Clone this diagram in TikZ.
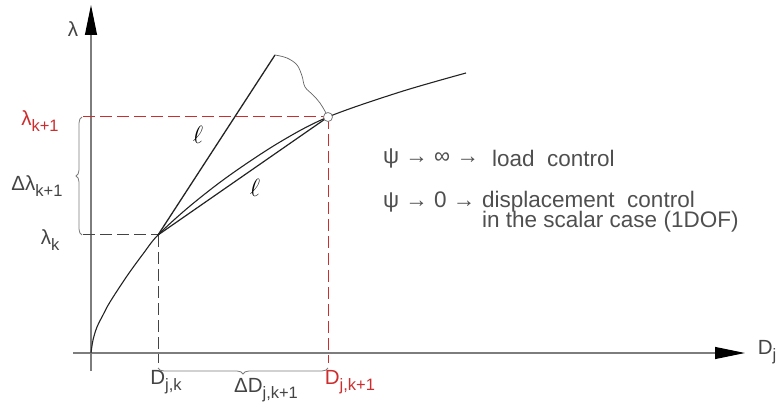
\documentclass[tikz,border=0pt]{standalone}
\usepackage{fontspec}
\setmainfont{Liberation Sans}
\usetikzlibrary{arrows.meta,decorations.pathreplacing}
\definecolor{redc}{RGB}{205,45,45}
\definecolor{axisc}{RGB}{125,125,125}
\definecolor{inkc}{RGB}{35,35,35}
\newcommand\sbx[1]{\raisebox{-0.32em}{\fontsize{16.5}{17}\selectfont #1}}
\begin{document}
\begin{tikzpicture}[x=1pt,y=-1pt,
  lbl/.style={font=\fontsize{20.5}{22}\selectfont, inner sep=0pt, text=inkc!85},
  txt/.style={font=\fontsize{22.5}{24}\selectfont, inner sep=0pt, anchor=west, text=inkc!80},
  ell/.style={font=\fontsize{27}{28}\selectfont, inner sep=0pt},
  axisline/.style={axisc, line width=1.1pt},
  tip/.style={-{Triangle[length=30pt,width=12pt,color=black]}},
  dashblk/.style={inkc!85, line width=1pt, dash pattern=on 12pt off 5pt},
  dashred/.style={redc, line width=1pt, dash pattern=on 12pt off 5pt},
  ink/.style={inkc, line width=1.2pt},
  brc/.style={axisc, line width=0.8pt, decorate, decoration={brace, amplitude=6pt}}]
\useasboundingbox (0,0) rectangle (780,409);

% key points
\coordinate (O) at (91,353);
\coordinate (Pk) at (158,235);
\coordinate (Pk1) at (328,117);
\coordinate (T) at (275,55);
\coordinate (E) at (466,73);
\coordinate (ybot) at (91,371);
\coordinate (ytip) at (91,5);
\coordinate (xleft) at (73,353);
\coordinate (xtip) at (745,353);
\coordinate (lk1L) at (83,117);
\coordinate (lkL) at (83,235);
\coordinate (vk) at (158,363);
\coordinate (vk1) at (328,363);
\coordinate (bL) at (158,368);
\coordinate (bR) at (328,368);
\coordinate (lbB) at (82,235);
\coordinate (lbT) at (82,117);

% axes
\draw[axisline, tip] (ybot) -- (ytip);
\draw[axisline, tip] (xleft) -- (xtip);

% dashed guides
\draw[dashblk] (lkL) -- (Pk);
\draw[dashblk] (Pk) -- (vk);
\draw[dashred] (lk1L) -- (Pk1);
\draw[dashred] (Pk1) -- (vk1);

% braces
\draw[brc] (lbB) -- (lbT);
\draw[brc] (bR) -- (bL);

% curve
\draw[ink, line width=1.1pt] plot[smooth, tension=0.55] coordinates {
 (91,353) (93,340) (97,327) (103,315) (110,302) (127,276) (143,254) (158,235)
 (190,206) (230,175) (280,142) (328,117) (400,92) (466,73)};

% chord and tangent line
\draw[ink] (Pk) -- (Pk1);
\draw[ink, line width=1.3pt] (Pk) -- (T);

% arc of radius ell (hand drawn look)
\draw[axisc!80!black, line width=0.7pt] plot[smooth, tension=0.6] coordinates {
 (275,55) (287,58) (297,65) (302,76) (305,87) (313,95) (320,103) (326,113)};

% target point
\node[circle, draw=axisc, fill=white, line width=0.8pt, minimum size=9pt, inner sep=0pt] (C) at (Pk1) {};

% labels
\node[lbl] (lam) at (73,29) {λ};
\node[lbl, text=redc] (lk1) at (40,121) {λ\sbx{k+1}};
\node[lbl] (dlk) at (37,186) {Δλ\sbx{k+1}};
\node[lbl] (lk) at (50,240) {λ\sbx{k}};
\node[lbl] (Djk) at (166,382) {D\sbx{j,k}};
\node[lbl] (dD) at (266,390) {ΔD\sbx{j,k+1}};
\node[lbl, text=redc] (Djk1) at (350,382) {D\sbx{j,k+1}};
\node[lbl] (Dj) at (767,352) {D\sbx{j}};
\node[ell] (l1) at (198,135) {$\ell$};
\node[ell] (l2) at (255,188) {$\ell$};

\node[txt] (t1a) at (383,158) {ψ → ∞ →};
\node[txt] (t1b) at (492,158) {load\ \ control};
\node[txt] (t2a) at (383,202) {ψ → 0 →};
\node[txt] (t2b) at (482,202) {displacement\ \ control};
\node[txt] (t3) at (482,222) {in the scalar case (1DOF)};
\end{tikzpicture}
\end{document}
